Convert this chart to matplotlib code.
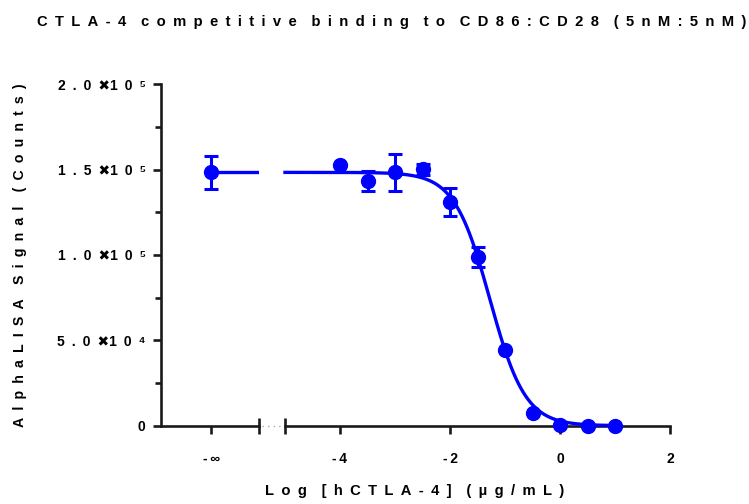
import numpy as np
import matplotlib
matplotlib.use("Agg")
import matplotlib.pyplot as plt
from matplotlib.lines import Line2D

# ---------------- data ----------------
log_conc = [-4.0, -3.5, -3.0, -2.5, -2.0, -1.5, -1.0, -0.5, 0.0, 0.5, 1.0]
signal_mean = [1.525e5, 1.432e5, 1.484e5, 1.502e5, 1.309e5, 0.987e5, 0.443e5, 0.073e5, 0.004e5, 0.0, 0.0]
signal_sd = [0.0, 0.058e5, 0.110e5, 0.031e5, 0.082e5, 0.059e5, 0.0, 0.0, 0.0, 0.0, 0.0]
control_mean = 1.484e5   # no CTLA-4 (log conc = -inf)
control_sd = 0.097e5

# 4-parameter logistic fit parameters
fit_top = 1.484e5
fit_bottom = 0.0
fit_logic50 = -1.276
fit_hill = 1.346

y_ticks = [0, 5e4, 1e5, 1.5e5, 2e5]
y_ticklabels = ["0",
                "5\u2002.\u20020\u2002\u27161\u20020\u2002\u2074",
                "1\u2002.\u20020\u2002\u27161\u20020\u2002\u2075",
                "1\u2002.\u20025\u2002\u27161\u20020\u2002\u2075",
                "2\u2002.\u20020\u2002\u27161\u20020\u2002\u2075"]
x_ticks = [-4, -2, 0, 2]
x_ticklabels = ["-\u20094", "-\u20092", "0", "2"]
neg_inf_label = "-\u2009\u221e"

title = "CTLA-4 competitive binding to CD86:CD28 (5nM:5nM)"
xlabel = "Log [hCTLA-4] (\u00b5g/mL)"
ylabel = "AlphaLISA Signal (Counts)"

# ---------------- style ----------------
BLUE = "#0000ff"
FONT = ["Liberation Sans", "DejaVu Sans"]
plt.rcParams["font.family"] = FONT
plt.rcParams["font.weight"] = "bold"


def spaced(s):
    words = s.split(" ")
    return "\u2002\u2002".join("\u2002".join(w) for w in words)


W, H = 749, 504
fig = plt.figure(figsize=(W / 100, H / 100), dpi=100)

y0_px, y1_px = 425.7, 84.3
bottom = 1 - y0_px / H
height = (y0_px - y1_px) / H
ax1 = fig.add_axes([161 / W, bottom, (259 - 161) / W, height])
ax2 = fig.add_axes([285 / W, bottom, (670 - 285) / W, height])

lw_spine = 1.9
for ax in (ax1, ax2):
    ax.set_ylim(0, 2e5)
    for s in ("top", "right"):
        ax.spines[s].set_visible(False)
    ax.spines["bottom"].set_linewidth(lw_spine)
    ax.spines["left"].set_linewidth(lw_spine)
    ax.spines["bottom"].set_color("#1a1a1a")
    ax.spines["left"].set_color("#1a1a1a")
    ax.patch.set_alpha(0)

ax2.spines["left"].set_visible(False)
ax2.tick_params(axis="y", left=False, labelleft=False)

# left panel (-inf)
ax1.set_xlim(-0.91, 0.87)
ax1.set_xticks([0])
ax1.set_xticklabels([neg_inf_label])
ax1.set_xticks([0.87], minor=True)
ax1.set_yticks(y_ticks)
ax1.set_yticklabels(y_ticklabels)
ax1.set_yticks([2.5e4, 7.5e4, 1.25e5, 1.75e5], minor=True)
ax1.tick_params(axis="y", which="major", length=6, width=lw_spine, color="#1a1a1a",
                labelsize=10, pad=5)
ax1.tick_params(axis="y", which="minor", length=4, width=lw_spine, color="#1a1a1a")
ax1.tick_params(axis="x", which="major", length=6, width=lw_spine, color="#1a1a1a",
                labelsize=10, pad=13)
ax1.tick_params(axis="x", which="minor", direction="inout", length=12, width=lw_spine,
                color="#1a1a1a")

# right panel
ax2.set_xlim(-5, 2)
ax2.set_xticks(x_ticks)
ax2.set_xticklabels(x_ticklabels)
ax2.set_xticks([-5], minor=True)
ax2.tick_params(axis="x", which="major", length=6, width=lw_spine, color="#1a1a1a",
                labelsize=10, pad=13)
ax2.tick_params(axis="x", which="minor", direction="inout", length=12, width=lw_spine,
                color="#1a1a1a")

for lab in ax1.get_yticklabels() + ax1.get_xticklabels() + ax2.get_xticklabels():
    lab.set_fontweight("bold")
    lab.set_family(FONT)

# data
ax1.errorbar([0], [control_mean], yerr=[control_sd], fmt="o", color=BLUE, ms=10,
             elinewidth=2.2, capsize=5, capthick=2.2, clip_on=False, zorder=4)
ax1.plot([0, 0.87], [fit_top, fit_top], color=BLUE, lw=2.4, zorder=3)

ax2.errorbar(log_conc, signal_mean, yerr=signal_sd, fmt="o", color=BLUE, ms=10,
             elinewidth=2.2, capsize=5, capthick=2.2, clip_on=False, zorder=4)
xc = np.linspace(-5, 1.0, 400)
yc = fit_bottom + (fit_top - fit_bottom) / (1 + 10 ** ((xc - fit_logic50) * fit_hill))
ax2.plot(xc, yc, color=BLUE, lw=2.4, zorder=3, clip_on=False)

# dotted break connector
fig.add_artist(Line2D([262 / W, 282 / W], [bottom, bottom], transform=fig.transFigure,
                      color="#aaaaaa", lw=1.0, ls=(0, (1, 3))))

# texts
fig.text(392 / W, 1 - 22 / H, spaced(title), ha="center", va="center",
         fontsize=10.6, fontweight="bold", family=FONT)
fig.text(415 / W, 1 - 491 / H, spaced(xlabel), ha="center", va="center",
         fontsize=10.6, fontweight="bold", family=FONT)
fig.text(20 / W, 1 - 255 / H, spaced(ylabel), ha="center", va="center",
         rotation=90, fontsize=10.2, fontweight="bold", family=FONT)

fig.savefig("out.png", dpi=100)
